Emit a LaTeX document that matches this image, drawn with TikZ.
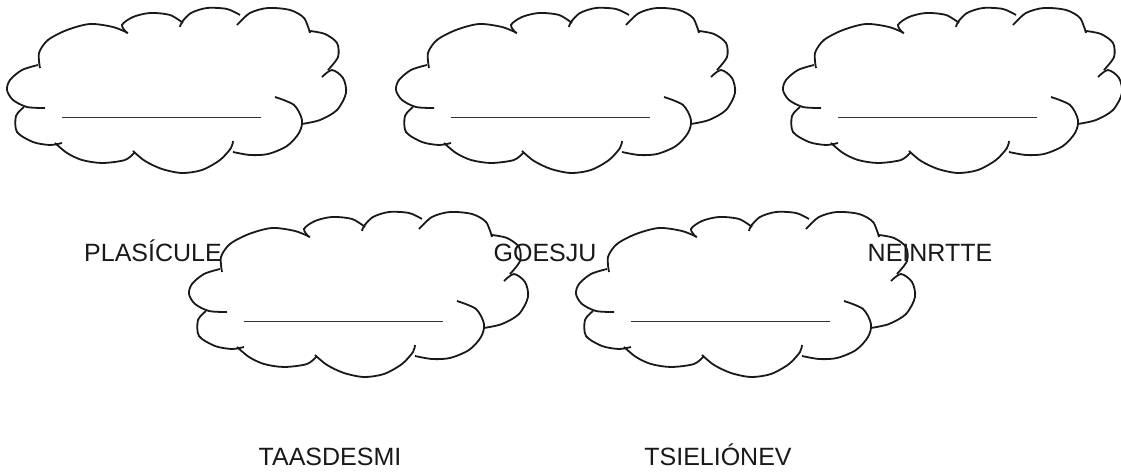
\documentclass[tikz,border=0pt]{standalone}
\usepackage{fontspec}
\setmainfont{Liberation Sans}

\tikzset{
  cloudline/.style={line width=0.9pt, color=black!90},
  blankline/.style={line width=0.5pt, color=black!80},
  word/.style={anchor=base, font=\fontsize{12.5}{15}\selectfont, text=black!90, inner sep=0pt},
  cloud/.pic={
    \draw[cloudline] plot[smooth] coordinates {(38,65) (22,70) (10,80) (7,90) (13,100) (27,107) (45,108)};
    \draw[cloudline] plot[smooth] coordinates {(24,107) (16,116) (17,132) (33,142) (50,145) (62,143)};
    \draw[cloudline] plot[smooth] coordinates {(55,143) (67,153) (82,160) (102,163) (125,160) (135,152)};
    \draw[cloudline] plot[smooth] coordinates {(133,151) (145,161) (162,169) (182,173) (202,170) (220,160) (231,148) (233,141)};
    \draw[cloudline] plot[smooth] coordinates {(233,152) (250,155) (268,154) (287,146) (299,133) (302,120) (294,105) (275,97)};
    \draw[cloudline] plot[smooth] coordinates {(302,124) (320,120) (337,110) (346,93) (343,78) (332,70) (322,77)};
    \draw[cloudline] plot[smooth] coordinates {(328,70) (338,57) (337,43) (325,34) (310,31)};
    \draw[cloudline] plot[smooth] coordinates {(310,33) (304,18) (290,10) (268,8) (250,13) (237,25)};
    \draw[cloudline] plot[smooth] coordinates {(240,15) (227,9) (207,8) (191,13) (182,22) (180,27)};
    \draw[cloudline] plot[smooth] coordinates {(183,23) (170,15) (150,13) (133,17) (122,25) (127,33)};
    \draw[cloudline] plot[smooth] coordinates {(128,33) (113,27) (90,24) (67,30) (48,40) (39,53) (40,68)};
    % blank to fill in
    \draw[blankline] (62,118) -- (261,118);
  }
}

\begin{document}
\begin{tikzpicture}[x=0.5pt, y=-0.5pt]
        \useasboundingbox (0,0) rectangle (1121,475);
        % top row
        \pic (c1) at (0,0) {cloud};
        \pic (c2) at (389,0) {cloud};
        \pic (c3) at (776,0) {cloud};
        % bottom row
        \pic (c4) at (182,204) {cloud};
        \pic (c5) at (569,204) {cloud};
        % scrambled words
        \node[word] (plasicule) at (153,262) {PLASÍCULE};
        \node[word] (goesju) at (545,262) {GOESJU};
        \node[word] (neinrtte) at (930,262) {NEINRTTE};
        \node[word] (taasdesmi) at (330,466) {TAASDESMI};
        \node[word] (tsielionev) at (718,466) {TSIELIÓNEV};
      \end{tikzpicture}
\end{document}
